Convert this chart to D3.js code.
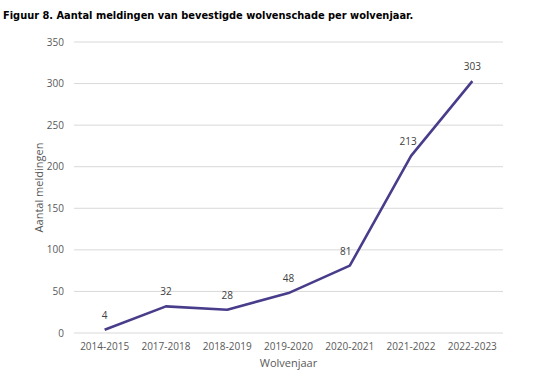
<!DOCTYPE html>
<html>
<head>
<meta charset="utf-8">
<script src="https://cdn.jsdelivr.net/npm/d3@7"></script>
<style>
  body { margin: 0; background: #fff; }
  svg text { font-family: "Open Sans", sans-serif; fill: #595959; }
</style>
</head>
<body>
<svg id="chart" width="555" height="378"></svg>
<script>
const seasons = ['2014-2015', '2017-2018', '2018-2019', '2019-2020', '2020-2021', '2021-2022', '2022-2023'];
const reports = [4, 32, 28, 48, 81, 213, 303];
const yTicks = [0, 50, 100, 150, 200, 250, 300, 350];

const svg = d3.select('#chart');
const plotLeft = 74, plotRight = 503, plotTop = 42, plotBottom = 333;

const x = d3.scaleBand().domain(seasons).range([plotLeft, plotRight]);
const y = d3.scaleLinear().domain([0, 350]).range([plotBottom, plotTop]);

// title
svg.append('text')
    .attr('x', 3).attr('y', 19)
    .style('font-family', '"DejaVu Sans", Verdana, sans-serif')
    .style('font-weight', 'bold')
    .style('font-size', '9.85px')
    .style('fill', '#000')
    .text('Figuur 8. Aantal meldingen van bevestigde wolvenschade per wolvenjaar.');

// gridlines
svg.append('g')
    .selectAll('line')
    .data(yTicks)
    .join('line')
    .attr('x1', plotLeft).attr('x2', plotRight)
    .attr('y1', d => y(d)).attr('y2', d => y(d))
    .attr('stroke', '#d9d9d9')
    .attr('stroke-width', 1);

// y tick labels
svg.append('g')
    .selectAll('text')
    .data(yTicks)
    .join('text')
    .attr('x', 64)
    .attr('y', d => y(d) + 3.5)
    .attr('text-anchor', 'end')
    .style('font-size', '10px')
    .text(d => d);

// x tick labels
svg.append('g')
    .selectAll('text')
    .data(seasons)
    .join('text')
    .attr('x', d => x(d) + x.bandwidth() / 2)
    .attr('y', 350)
    .attr('text-anchor', 'middle')
    .style('font-size', '10px')
    .text(d => d);

// axis titles
svg.append('text')
    .attr('transform', 'translate(43,' + (plotTop + plotBottom) / 2 + ') rotate(-90)')
    .attr('text-anchor', 'middle')
    .style('font-size', '11px')
    .text('Aantal meldingen');

svg.append('text')
    .attr('x', (plotLeft + plotRight) / 2)
    .attr('y', 367)
    .attr('text-anchor', 'middle')
    .style('font-size', '11px')
    .text('Wolvenjaar');

// line
const line = d3.line()
    .x((d, i) => x(seasons[i]) + x.bandwidth() / 2)
    .y(d => y(d));

svg.append('path')
    .datum(reports)
    .attr('d', line)
    .attr('fill', 'none')
    .attr('stroke', '#483d8b')
    .attr('stroke-width', 2.6)
    .attr('stroke-linejoin', 'round');

// data labels (steep segments push the label a little to the left)
svg.append('g')
    .selectAll('text')
    .data(reports)
    .join('text')
    .attr('x', (d, i) => x(seasons[i]) + x.bandwidth() / 2 - (i === 4 ? 4 : i === 5 ? 3 : 0))
    .attr('y', d => y(d) - 11)
    .attr('text-anchor', 'middle')
    .style('font-size', '10px')
    .style('fill', '#404040')
    .text(d => d);
</script>
</body>
</html>
